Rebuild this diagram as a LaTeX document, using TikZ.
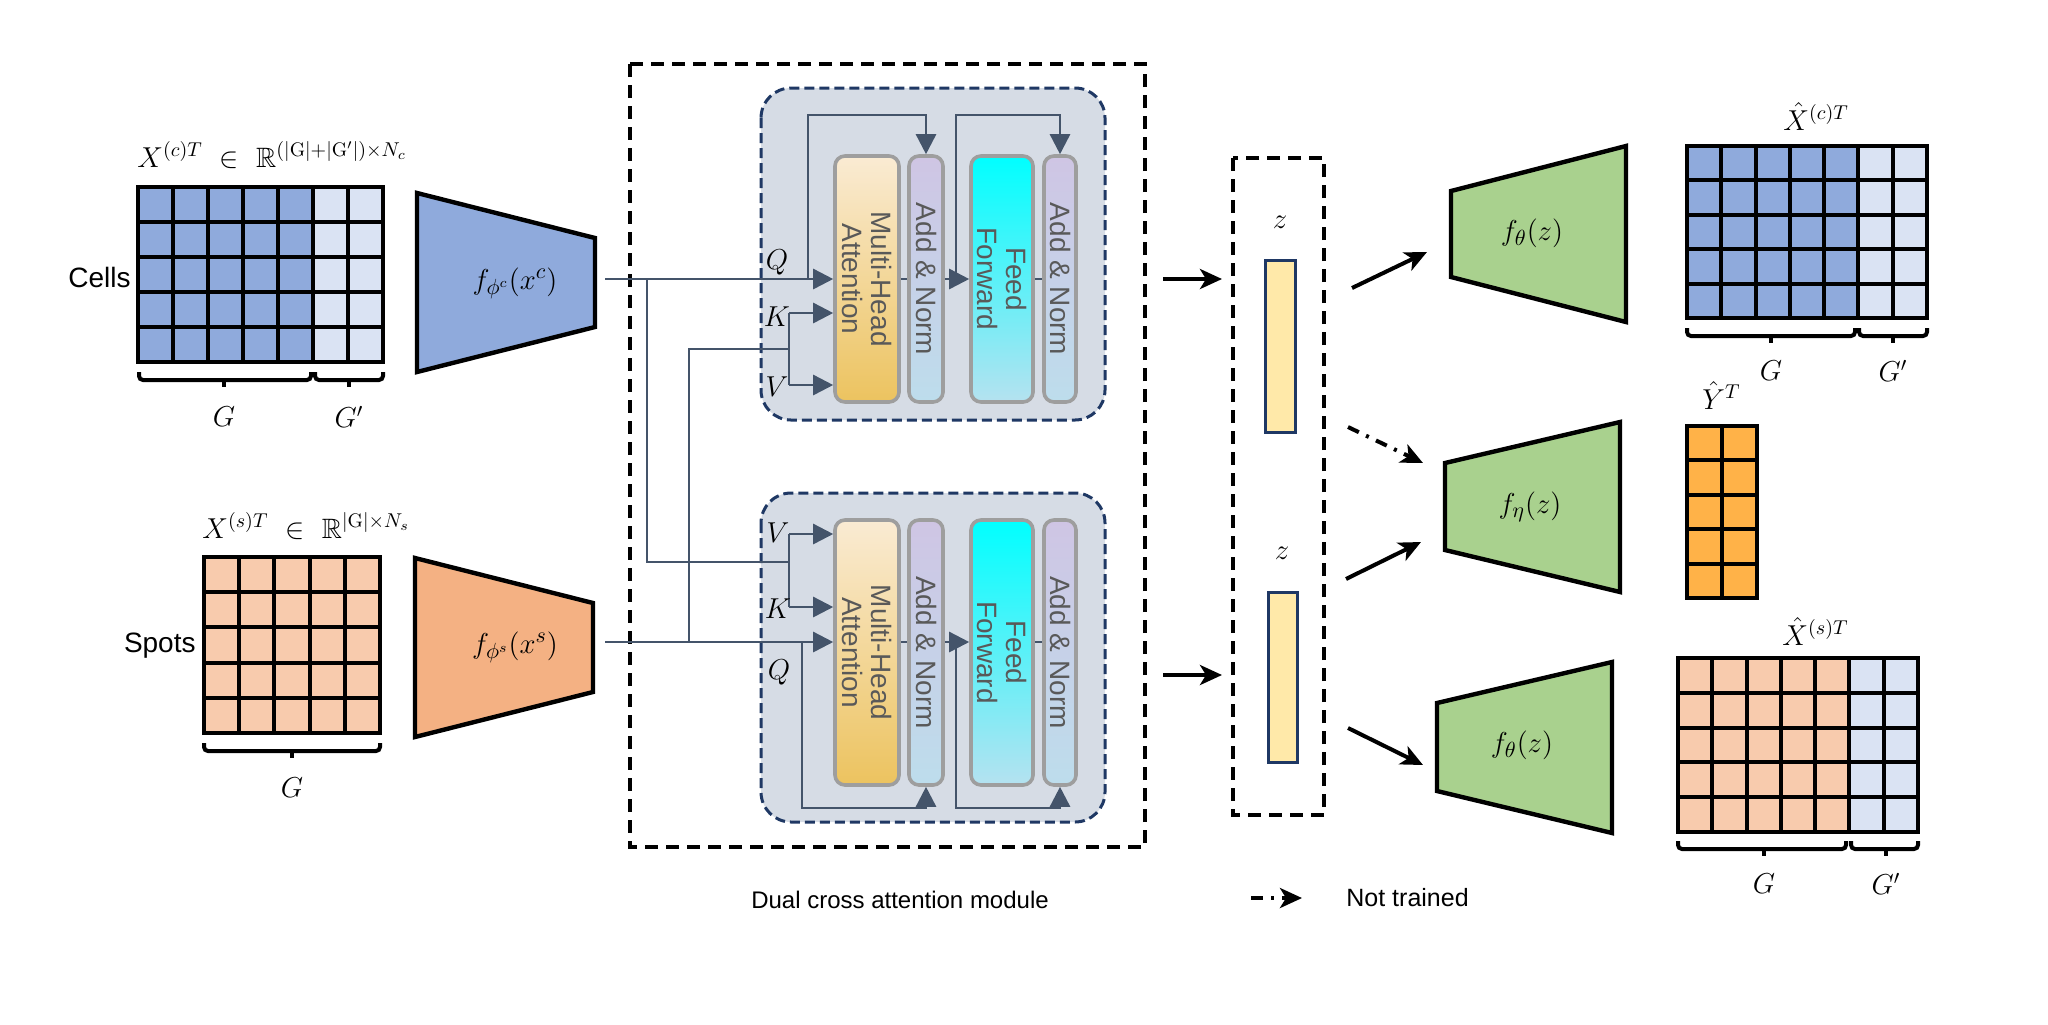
\documentclass[tikz,border=0pt]{standalone}
\usepackage{amssymb}
\usepackage{fontspec}
\newfontfamily\arialf{Liberation Sans}
\usetikzlibrary{arrows.meta}
\definecolor{cblue}{HTML}{8FAADC}
\definecolor{clight}{HTML}{DAE3F3}
\definecolor{cpeach}{HTML}{F8CBAD}
\definecolor{corange}{HTML}{F4B183}
\definecolor{cgreen}{HTML}{A9D18E}
\definecolor{cyorange}{HTML}{FFB248}
\definecolor{zfill}{HTML}{FFE9A9}
\definecolor{navy}{HTML}{1F3864}
\definecolor{panelf}{HTML}{D6DCE5}
\definecolor{slate}{HTML}{44546A}
\definecolor{bgray}{HTML}{9E9E9E}
\definecolor{mhatop}{HTML}{FAEBD3}
\definecolor{mhabot}{HTML}{ECC35F}
\definecolor{antop}{HTML}{CFC5E4}
\definecolor{anbot}{HTML}{BDDDEC}
\definecolor{fftop}{HTML}{00FFFF}
\definecolor{ffbot}{HTML}{B5E2F0}
\definecolor{tgray}{HTML}{595959}
\newcommand{\mygrid}[6]{%
  \pgfmathtruncatemacro{\myncm}{#3-1}%
  \pgfmathtruncatemacro{\mynrm}{#4-1}%
  \foreach \k in {1,...,\myncm} {\draw[mline] ({#1+#5*\k},#2) -- ({#1+#5*\k},{#2+#6*#4});}%
  \foreach \k in {1,...,\mynrm} {\draw[mline] (#1,{#2+#6*\k}) -- ({#1+#5*#3},{#2+#6*\k});}%
  \draw[mline] (#1,#2) rectangle ({#1+#5*#3},{#2+#6*#4});%
}
\newcommand{\mybrace}[4]{%
  \draw[bline] (#1,#3) -- (#1,{#3+8}) -- (#2,{#3+8}) -- (#2,#3);%
  \draw[mline] (#4,{#3+8}) -- (#4,{#3+15});%
}
\begin{document}
\begin{tikzpicture}[x=0.5pt,y=-0.5pt,
  mline/.style={line width=2pt, black},
  bline/.style={line width=2pt, black, rounded corners=2pt},
  trap/.style={draw=black, line width=2.2pt, line join=miter},
  conn/.style={draw=slate, line width=1.3pt},
  carrow/.style={conn, -{Triangle[length=10pt,width=10pt]}},
  barrow/.style={black, line width=2pt, -{Stealth[length=11pt,width=10pt,inset=3pt]}},
  ddash/.style={dash pattern=on 6pt off 4pt on 1.5pt off 4pt},
  obox/.style={draw=black, line width=2pt, dash pattern=on 6.5pt off 4pt},
  panel/.style={draw=navy, fill=panelf, line width=1.5pt, dash pattern=on 5pt off 2.5pt, rounded corners=15pt},
  blk/.style={draw=bgray, line width=1.8pt, rounded corners=5pt, inner sep=0pt},
  anshade/.style={top color=antop, bottom color=anbot},
  ffshade/.style={top color=fftop, bottom color=ffbot},
  mhashade/.style={top color=mhatop, bottom color=mhabot},
  blktext/.style={text=tgray, font=\arialf\fontsize{14}{14.5}\selectfont, rotate=-90, align=center, inner sep=0pt},
  mlab/.style={inner sep=0pt, font=\fontsize{14}{16}\selectfont},
  flab/.style={inner sep=0pt, font=\fontsize{15}{17}\selectfont},
  stext/.style={inner sep=0pt, font=\arialf\fontsize{14}{16}\selectfont},
  zbar/.style={draw=navy, fill=zfill, line width=1.5pt}
]
\useasboundingbox (0,0) rectangle (2048,1024);

% ---------- left matrices ----------
\fill[cblue] (138,187) rectangle (313,362);
\fill[clight] (313,187) rectangle (383,362);
\mygrid{138}{187}{7}{5}{35}{35}
\mybrace{139}{311}{372}{224}
\mybrace{315}{383}{372}{349}
\node[mlab, anchor=base west] (xclab) at (137,167) {$X^{(c)T}\ \in\ \mathbb{R}^{(|\mathrm{G}|+|\mathrm{G}'|)\times N_c}$};
\node[mlab] (gl1) at (224,417) {$G$};
\node[mlab] (gl2) at (349,417) {$G'$};
\node[stext, anchor=east] (cells) at (131,277) {Cells};

\fill[cpeach] (204,557) rectangle (380,733);
\mygrid{204}{557}{5}{5}{35.2}{35.2}
\mybrace{204}{380}{743}{292}
\node[mlab, anchor=base west] (xslab) at (202,538) {$X^{(s)T}\ \in\ \mathbb{R}^{|\mathrm{G}|\times N_s}$};
\node[mlab] (gl3) at (292,788) {$G$};
\node[stext, anchor=east] (spots) at (196,646) {Spots};

% ---------- encoders ----------
\draw[trap, fill=cblue] (417,193) -- (595,238) -- (595,327) -- (417,372) -- cycle;
\node[flab] (fc) at (515,283) {$f_{\phi^c}(x^c)$};
\draw[trap, fill=corange] (415,558) -- (593,603) -- (593,692) -- (415,737) -- cycle;
\node[flab] (fs) at (515,647) {$f_{\phi^s}(x^s)$};

% ---------- dual cross attention module ----------
\draw[obox] (630,64) rectangle (1145,847);
\node[stext, font=\arialf\fontsize{12}{14}\selectfont] (dcam) at (900,900) {Dual cross attention module};
\draw[panel] (761,88) rectangle (1105,420);
\draw[panel] (761,493) rectangle (1105,822);

% blocks
\node[blk, mhashade, minimum width=32pt, minimum height=123pt] (mha1) at (867,279) {};
\node[blk, anshade, minimum width=17pt, minimum height=123pt] (an1) at (926,279) {};
\node[blk, ffshade, minimum width=31pt, minimum height=123pt] (ff1) at (1002,279) {};
\node[blk, anshade, minimum width=16pt, minimum height=123pt] (an2) at (1060,279) {};
\node[blk, mhashade, minimum width=32pt, minimum height=132.5pt] (mha2) at (867,652.5) {};
\node[blk, anshade, minimum width=17pt, minimum height=132.5pt] (an3) at (926,652.5) {};
\node[blk, ffshade, minimum width=31pt, minimum height=132.5pt] (ff2) at (1002,652.5) {};
\node[blk, anshade, minimum width=16pt, minimum height=132.5pt] (an4) at (1060,652.5) {};

% coordinates
\coordinate (q1s) at (605,279);
\coordinate (q2s) at (605,642);
\coordinate (k1) at (789,313);
\coordinate (v1) at (789,385);
\coordinate (kv1) at (789,349);
\coordinate (v2) at (789,534);
\coordinate (k2) at (789,607);
\coordinate (kv2) at (789,562);
\coordinate (d1a) at (647,279);
\coordinate (d1b) at (647,562);
\coordinate (d2a) at (689,642);
\coordinate (d2b) at (689,349);
\coordinate (s1a) at (808,279);
\coordinate (s1t) at (808,115);
\coordinate (s2a) at (956,279);
\coordinate (s2t) at (956,115);
\coordinate (s3a) at (802,642);
\coordinate (s3b) at (802,808);
\coordinate (s4a) at (956,642);
\coordinate (s4b) at (956,808);

% connectors (top)
\draw[carrow] (q1s) -- (q1s -| mha1.west);
\draw[conn] (k1) -- (v1);
\draw[carrow] (k1) -- (k1 -| mha1.west);
\draw[carrow] (v1) -- (v1 -| mha1.west);
\draw[conn] (d1a) -- (d1b) -- (kv2);
\draw[conn] (d2a) -- (d2b) -- (kv1);
\draw[carrow] (s1a) -- (s1t) -| (an1.north);
\draw[carrow] (s2a) -- (s2t) -| (an2.north);
\draw[conn] (mha1) -- (an1);
\draw[carrow] (an1) -- (ff1);
\draw[conn] (ff1) -- (an2);
% connectors (bottom)
\draw[carrow] (q2s) -- (q2s -| mha2.west);
\draw[conn] (v2) -- (k2);
\draw[carrow] (v2) -- (v2 -| mha2.west);
\draw[carrow] (k2) -- (k2 -| mha2.west);
\draw[carrow] (s3a) -- (s3b) -| (an3.south);
\draw[carrow] (s4a) -- (s4b) -| (an4.south);
\draw[conn] (mha2.east |- q2s) -- (an3.west |- q2s);
\draw[carrow] (an3.east |- q2s) -- (ff2.west |- q2s);
\draw[conn] (ff2.east |- q2s) -- (an4.west |- q2s);

% block texts
\node[blktext] (mha1t) at (mha1) {Multi-Head\\Attention};
\node[blktext] (an1t) at (an1) {Add \& Norm};
\node[blktext] (ff1t) at (ff1) {Feed\\Forward};
\node[blktext] (an2t) at (an2) {Add \& Norm};
\node[blktext] (mha2t) at (mha2) {Multi-Head\\Attention};
\node[blktext] (an3t) at (an3) {Add \& Norm};
\node[blktext] (ff2t) at (ff2) {Feed\\Forward};
\node[blktext] (an4t) at (an4) {Add \& Norm};

% Q K V labels
\node[flab] (lq1) at (777,262) {$Q$};
\node[flab] (lk1) at (777,317) {$K$};
\node[flab] (lv1) at (777,387) {$V$};
\node[flab] (lv2) at (778,533) {$V$};
\node[flab] (lk2) at (778,609) {$K$};
\node[flab] (lq2) at (779,672) {$Q$};

% ---------- latent z ----------
\draw[obox] (1233,158) rectangle (1324,815);
\node[zbar, minimum width=15pt, minimum height=86pt, inner sep=0pt] (z1) at (1280,346) {};
\node[zbar, minimum width=14.5pt, minimum height=85pt, inner sep=0pt] (z2) at (1282.5,677) {};
\node[flab] (zl1) at (1280,222) {$z$};
\node[flab] (zl2) at (1282,553) {$z$};
\coordinate (m1) at (1163,279);
\coordinate (m1e) at (1222,279);
\coordinate (m2) at (1163,675);
\coordinate (m2e) at (1222,675);
\draw[barrow] (m1) -- (m1e);
\draw[barrow] (m2) -- (m2e);

% ---------- decoders ----------
\draw[trap, fill=cgreen] (1451,191) -- (1626,146) -- (1626,322) -- (1451,277) -- cycle;
\node[flab] (dt1) at (1532,233) {$f_\theta(z)$};
\draw[trap, fill=cgreen] (1445,463) -- (1620,422) -- (1620,592) -- (1445,550) -- cycle;
\node[flab] (deta) at (1530,507) {$f_\eta(z)$};
\draw[trap, fill=cgreen] (1437,703) -- (1612,662) -- (1612,833) -- (1437,791) -- cycle;
\node[flab] (dt2) at (1522,745) {$f_\theta(z)$};

\coordinate (a1s) at (1352,288);
\coordinate (a1e) at (1427,252);
\coordinate (a2s) at (1348,427);
\coordinate (a2e) at (1423,463);
\coordinate (a3s) at (1346,579);
\coordinate (a3e) at (1421,542);
\coordinate (a4s) at (1348,728);
\coordinate (a4e) at (1423,765);
\draw[barrow] (a1s) -- (a1e);
\draw[barrow, ddash] (a2s) -- (a2e);
\draw[barrow] (a3s) -- (a3e);
\draw[barrow] (a4s) -- (a4e);

% ---------- outputs ----------
\fill[cblue] (1687,146) rectangle (1858.45,318);
\fill[clight] (1858.45,146) rectangle (1927,318);
\mygrid{1687}{146}{7}{5}{34.29}{34.4}
\mybrace{1687}{1855}{328}{1771}
\mybrace{1859}{1927}{328}{1893}
\node[mlab, anchor=base west] (xchat) at (1783,130) {$\hat{X}^{(c)T}$};
\node[mlab] (gl4) at (1771,371) {$G$};
\node[mlab] (gl5) at (1893,371) {$G'$};

\fill[cyorange] (1687,426) rectangle (1757,598);
\mygrid{1687}{426}{2}{5}{35}{34.4}
\node[mlab, anchor=base west] (yhat) at (1702,409) {$\hat{Y}^{T}$};

\fill[cpeach] (1678,658) rectangle (1849.45,832);
\fill[clight] (1849.45,658) rectangle (1918,832);
\mygrid{1678}{658}{7}{5}{34.29}{34.8}
\mybrace{1678}{1846}{841}{1764}
\mybrace{1851}{1918}{841}{1886}
\node[mlab, anchor=base west] (xshat) at (1782,645) {$\hat{X}^{(s)T}$};
\node[mlab] (gl6) at (1764,884) {$G$};
\node[mlab] (gl7) at (1886,884) {$G'$};

% ---------- legend ----------
\coordinate (lg1) at (1251,898);
\coordinate (lg2) at (1302,898);
\draw[barrow, ddash] (lg1) -- (lg2);
\node[stext, font=\arialf\fontsize{12.5}{14}\selectfont, anchor=west] (nt) at (1346,898) {Not trained};
\end{tikzpicture}
\end{document}
